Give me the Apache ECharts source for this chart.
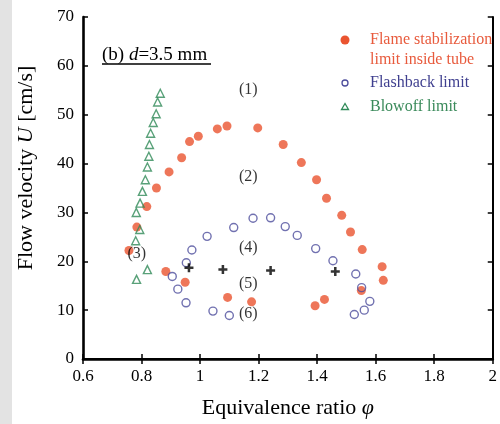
<!DOCTYPE html>
<html><head><meta charset="utf-8">
<script src="https://cdn.jsdelivr.net/npm/echarts/dist/echarts.min.js"></script>
<style>html,body{margin:0;padding:0;background:#fff}#c{width:500px;height:424px}</style>
</head><body><div id="c"></div>
<script>
// Flame stabilization limit inside tube (filled red circles)
const flamePhi = [0.757,0.784,0.818,0.851,0.894,0.937,0.964,0.994,1.059,1.092,1.197,1.284,1.346,1.398,1.432,1.484,1.514,1.554,1.622,1.626,1.551,1.425,1.393,1.176,1.094,0.949,0.883];
const flameU   = [22.2,27.0,31.2,35.0,38.3,41.2,44.5,45.6,47.1,47.7,47.3,43.9,40.2,36.7,32.9,29.4,26.0,22.4,18.9,16.1,14.0,12.2,10.9,11.7,12.6,15.7,17.9];
// Flashback limit (open blue circles)
const flashPhi = [0.905,0.924,0.952,0.953,0.972,1.024,1.115,1.181,1.241,1.291,1.332,1.395,1.454,1.532,1.552,1.580,1.561,1.527,1.044,1.100];
const flashU   = [16.9,14.3,11.5,19.7,22.3,25.1,26.9,28.8,28.9,27.1,25.3,22.6,20.1,17.4,14.6,11.8,10.0,9.1,9.8,8.9];
// Blowoff limit (open green triangles)
const blowPhi = [0.864,0.855,0.850,0.840,0.831,0.827,0.825,0.820,0.813,0.803,0.795,0.782,0.794,0.780,0.820,0.783];
const blowU   = [54.4,52.6,50.2,48.4,46.2,43.9,41.5,39.3,36.7,34.3,31.9,30.0,26.5,24.2,18.3,16.3];
// Cross markers
const crossPhi = [0.962,1.078,1.241,1.462];
const crossU   = [18.7,18.3,18.1,17.9];
// Region labels
const regionText = ['(1)','(2)','(3)','(4)','(5)','(6)'];
const regionPhi  = [1.165,1.165,0.784,1.165,1.165,1.165];
const regionU    = [55.0,37.2,21.6,22.7,15.4,9.3];
// Axis ticks
const xTicks = [0.6,0.8,1,1.2,1.4,1.6,1.8,2];
const yTicks = [0,10,20,30,40,50,60,70];
// Legend texts
const legendTexts = ['Flame stabilization','limit inside tube','Flashback limit','Blowoff limit'];
const panelTitle = ['(b) ','d','=3.5 mm'];

const FONT = '"Liberation Serif","Times New Roman",serif';
const RED = '#ea5430', BLUE = '#4d4d9c', GREEN = '#2f8a58';
const zip = (a,b) => a.map((v,i) => [v,b[i]]);

const chart = echarts.init(document.getElementById('c'), null, {renderer:'canvas'});
const axisCommon = {
  type:'value', splitLine:{show:false},
  axisTick:{show:true, inside:true, length:5, lineStyle:{color:'#000', width:1.5}},
};
chart.setOption({
  animation:false,
  backgroundColor:'#fff',
  grid:{left:83, right:3, top:17, bottom:64},
  xAxis:[
    Object.assign({}, axisCommon, {
      min:xTicks[0], max:xTicks[xTicks.length-1], interval:0.2,
      axisLine:{lineStyle:{color:'#000', width:2.6}},
      axisLabel:{color:'#000', fontFamily:FONT, fontSize:17, margin:9,
        formatter: v => String(+v.toFixed(1))},
      name:'{n|Equivalence ratio }{i|φ}', nameLocation:'middle', nameGap:38,
      nameTextStyle:{color:'#000', rich:{
        n:{fontFamily:FONT, fontSize:22, color:'#000'},
        i:{fontFamily:FONT, fontSize:22, fontStyle:'italic', color:'#000'}}}
    }),
    Object.assign({}, axisCommon, {
      position:'top', min:xTicks[0], max:xTicks[xTicks.length-1], interval:0.2,
      axisLine:{lineStyle:{color:'#000', width:2}}, axisLabel:{show:false}
    })
  ],
  yAxis:[
    Object.assign({}, axisCommon, {
      min:yTicks[0], max:yTicks[yTicks.length-1], interval:10,
      axisLine:{lineStyle:{color:'#000', width:2.6}},
      axisLabel:{color:'#000', fontFamily:FONT, fontSize:17, margin:9},
      name:'{n|Flow velocity }{i|U}{n| [cm/s]}', nameLocation:'middle', nameGap:46, nameRotate:90,
      nameTextStyle:{color:'#000', padding:[0,0,0,40], rich:{
        n:{fontFamily:FONT, fontSize:22, color:'#000'},
        i:{fontFamily:FONT, fontSize:22, fontStyle:'italic', color:'#000'}}}
    }),
    Object.assign({}, axisCommon, {
      position:'right', min:yTicks[0], max:yTicks[yTicks.length-1], interval:10,
      axisLine:{lineStyle:{color:'#000', width:2}}, axisLabel:{show:false}
    })
  ],
  series:[
    {type:'scatter', name:'Flame stabilization limit inside tube', data:zip(flamePhi, flameU),
     symbol:'circle', symbolSize:9, itemStyle:{color:RED}, silent:true},
    {type:'scatter', name:'Flashback limit', data:zip(flashPhi, flashU),
     symbol:'circle', symbolSize:8, itemStyle:{color:'rgba(255,255,255,0)', borderColor:BLUE, borderWidth:1.4}, silent:true},
    {type:'scatter', name:'Blowoff limit', data:zip(blowPhi, blowU),
     symbol:'triangle', symbolSize:8, itemStyle:{color:'rgba(255,255,255,0)', borderColor:GREEN, borderWidth:1.4}, silent:true},
    {type:'scatter', name:'cross', data:zip(crossPhi, crossU),
     symbol:'path://M3.6,0h2.8v3.6h3.6v2.8h-3.6v3.6h-2.8v-3.6h-3.6v-2.8h3.6z', symbolSize:9, itemStyle:{color:'#000'}, silent:true},
    {type:'scatter', name:'regions', symbolSize:0, silent:true,
     data: regionPhi.map((p,i) => ({value:[p, regionU[i]], name:regionText[i]})),
     label:{show:true, position:'inside', formatter: p => p.name, color:'#000', fontFamily:FONT, fontSize:16}}
  ],
  graphic:[
    {type:'rect', left:0, top:0, z:-10, shape:{width:12, height:424}, style:{fill:'#e3e3e3'}},
    {type:'text', x:102, y:55, style:{
      text:'{n|'+panelTitle[0]+'}{i|'+panelTitle[1]+'}{n|'+panelTitle[2]+'}',
      verticalAlign:'middle', align:'left',
      rich:{n:{fontFamily:FONT, fontSize:19, fill:'#000'}, i:{fontFamily:FONT, fontSize:19, fontStyle:'italic', fill:'#000'}}}},
    {type:'line', shape:{x1:102, y1:64, x2:211, y2:64}, style:{stroke:'#000', lineWidth:1.5}},
    {type:'circle', shape:{cx:345, cy:40, r:4.5}, style:{fill:RED}},
    {type:'text', x:370, y:40, style:{text:legendTexts[0], fill:'#e85a3c', font:'16px '+FONT, verticalAlign:'middle'}},
    {type:'text', x:370, y:60, style:{text:legendTexts[1], fill:'#e85a3c', font:'16px '+FONT, verticalAlign:'middle'}},
    {type:'circle', shape:{cx:345, cy:83, r:3}, style:{fill:'none', stroke:BLUE, lineWidth:1.3}},
    {type:'text', x:370, y:83, style:{text:legendTexts[2], fill:'#3f3f8f', font:'16px '+FONT, verticalAlign:'middle'}},
    {type:'polygon', shape:{points:[[345,103.5],[341.5,109.5],[348.5,109.5]]}, style:{fill:'none', stroke:GREEN, lineWidth:1.3}},
    {type:'text', x:370, y:107, style:{text:legendTexts[3], fill:'#3a8a5a', font:'16px '+FONT, verticalAlign:'middle'}}
  ]
});
</script>
</body></html>
